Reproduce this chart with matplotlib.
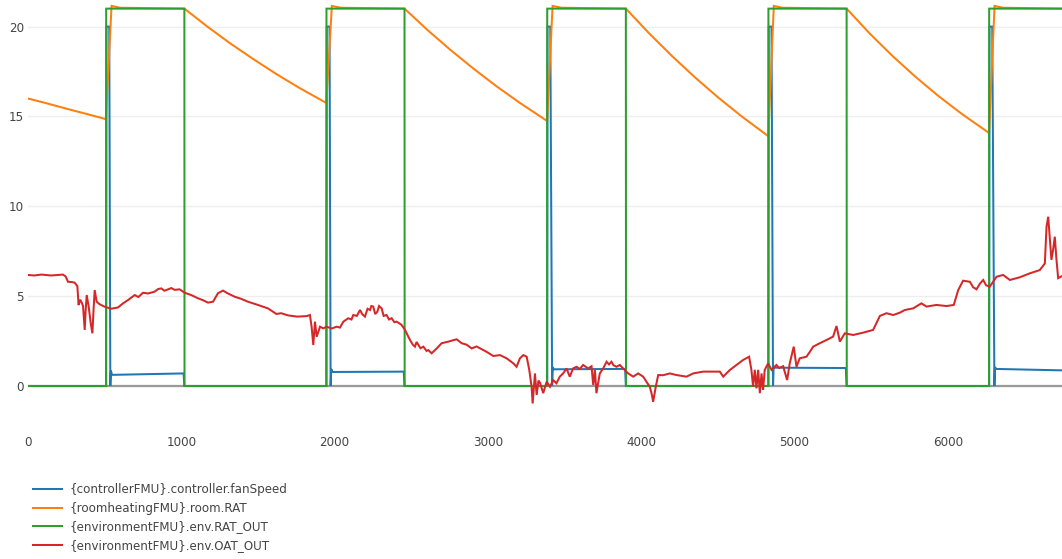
import matplotlib
matplotlib.use("Agg")
import matplotlib.pyplot as plt

# --- simulation output ------------------------------------------------------
fan_t = [0, 510, 512, 530, 537, 541, 548, 1015, 1020,
         1947, 1949, 1967, 1974, 1978, 1985, 2451, 2456,
         3387, 3389, 3407, 3419, 3423, 3430, 3895, 3900,
         4830, 4832, 4850, 4860, 4864, 4871, 5335, 5340,
         6270, 6272, 6290, 6304, 6308, 6315, 6745]
fan = [0, 0, 20, 20, 0, 0.85, 0.62, 0.7, 0,
       0, 20, 20, 0, 0.95, 0.78, 0.8, 0,
       0, 20, 20, 0, 1.05, 0.93, 0.95, 0,
       0, 20, 20, 0, 1.1, 1.02, 1.0, 0,
       0, 20, 20, 0, 1.05, 0.95, 0.87]

room_t = [0, 100, 200, 300, 400, 508, 545, 600, 1020,
          1170, 1320, 1470, 1620, 1770, 1946, 1982, 2040, 2456,
          2606, 2756, 2906, 3056, 3206, 3386, 3422, 3480, 3900,
          4050, 4200, 4350, 4500, 4650, 4829, 4865, 4920, 5340,
          5490, 5640, 5790, 5940, 6090, 6269, 6305, 6360, 6745]
room = [16.0, 15.78, 15.55, 15.32, 15.1, 14.85, 21.15, 21.05, 21.0,
        20.0, 19.06, 18.19, 17.36, 16.59, 15.75, 21.15, 21.05, 21.0,
        19.81, 18.7, 17.66, 16.68, 15.77, 14.75, 21.15, 21.05, 21.0,
        19.64, 18.37, 17.18, 16.07, 15.04, 13.9, 21.15, 21.05, 21.0,
        19.62, 18.36, 17.2, 16.13, 15.15, 14.08, 21.15, 21.05, 21.0]

rat_out_t = [0, 509, 510, 1020, 1021, 1946, 1947, 2456, 2457, 3386, 3387,
             3900, 3901, 4829, 4830, 5340, 5341, 6269, 6270, 6745]
rat_out = [0, 0, 21, 21, 0, 0, 21, 21, 0, 0, 21,
           21, 0, 0, 21, 21, 0, 0, 21, 21]

oat_t = [0, 40, 87, 150, 228, 245, 261, 290, 304, 322, 330, 340, 348, 359,
         370, 376, 383, 396, 409, 420, 428, 435, 448, 467, 500, 543, 587,
         620, 652, 696, 720, 750, 783, 826, 850, 870, 890, 913, 935, 957,
         989, 1022, 1065, 1109, 1140, 1174, 1207, 1239, 1272, 1304, 1348,
         1391, 1435, 1500, 1565, 1620, 1652, 1696, 1757, 1818, 1839, 1850,
         1861, 1872, 1883, 1905, 1926, 1948, 1981, 2013, 2035, 2057, 2089,
         2110, 2122, 2145, 2166, 2180, 2198, 2215, 2231, 2240, 2252, 2265,
         2279, 2290, 2307, 2320, 2339, 2355, 2372, 2390, 2405, 2420, 2437,
         2459, 2492, 2510, 2524, 2535, 2546, 2560, 2579, 2600, 2611, 2633,
         2666, 2698, 2742, 2796, 2829, 2861, 2894, 2926, 2959, 2992, 3035,
         3079, 3122, 3166, 3187, 3209, 3231, 3253, 3270, 3285, 3292, 3307,
         3318, 3330, 3340, 3361, 3383, 3405, 3426, 3447, 3469, 3491, 3513,
         3534, 3556, 3578, 3600, 3621, 3654, 3676, 3687, 3698, 3708, 3730,
         3752, 3774, 3790, 3806, 3820, 3839, 3861, 3882, 3915, 3948, 3980,
         4013, 4034, 4056, 4070, 4078, 4095, 4111, 4143, 4187, 4230, 4296,
         4339, 4404, 4448, 4513, 4535, 4578, 4621, 4665, 4704, 4719, 4730,
         4741, 4752, 4763, 4774, 4785, 4795, 4806, 4828, 4850, 4882, 4900,
         4926, 4952, 4969, 4995, 5013, 5034, 5078, 5100, 5122, 5165, 5209,
         5252, 5274, 5296, 5328, 5383, 5448, 5513, 5557, 5600, 5644, 5687,
         5720, 5774, 5828, 5861, 5926, 5992, 6039, 6068, 6100, 6144, 6165,
         6187, 6210, 6231, 6250, 6274, 6318, 6361, 6405, 6470, 6535, 6600,
         6633, 6644, 6655, 6666, 6676, 6687, 6698, 6709, 6720, 6745]
oat = [6.18, 6.15, 6.2, 6.15, 6.2, 6.1, 5.8, 5.78, 5.75, 5.56, 4.5, 4.8,
       4.69, 4.45, 3.12, 4.2, 5.06, 4.41, 3.49, 2.93, 4.3, 5.34, 4.69, 4.55,
       4.41, 4.3, 4.37, 4.6, 4.78, 5.06, 4.95, 5.19, 5.15, 5.25, 5.4, 5.43,
       5.3, 5.38, 5.45, 5.35, 5.38, 5.19, 5.06, 4.88, 4.78, 4.64, 4.69, 5.16,
       5.31, 5.15, 4.97, 4.85, 4.69, 4.51, 4.32, 4.01, 4.05, 3.93, 3.86,
       3.89, 3.95, 3.3, 2.28, 3.58, 2.74, 3.3, 3.21, 3.3, 3.2, 3.3, 3.25,
       3.58, 3.77, 3.7, 3.95, 3.9, 4.23, 4.0, 3.86, 4.3, 4.23, 4.45, 4.42,
       4.0, 4.14, 4.45, 4.32, 3.9, 3.95, 3.7, 3.77, 3.55, 3.58, 3.5, 3.4,
       3.12, 2.56, 2.3, 2.19, 2.45, 2.3, 2.1, 2.19, 1.95, 2.0, 1.82, 2.09,
       2.38, 2.47, 2.6, 2.38, 2.3, 2.09, 2.2, 2.05, 1.9, 1.67, 1.72, 1.54,
       1.26, 1.07, 1.54, 1.72, 1.63, 0.89, -0.04, -0.97, 0.7, -0.5, 0.3,
       0.18, -0.4, 0.24, -0.04, 0.33, 0.15, 0.52, 0.7, 0.98, 0.52, 0.98,
       1.07, 0.95, 1.17, 0.98, 1.1, 0.06, 0.89, -0.4, 0.7, 0.98, 1.35, 1.2,
       1.35, 1.15, 1.07, 1.17, 0.98, 0.7, 0.52, 0.7, 0.52, 0.24, -0.04,
       -0.5, -0.88, -0.04, 0.61, 0.6, 0.7, 0.61, 0.52, 0.7, 0.8, 0.8, 0.8,
       0.52, 0.89, 1.17, 1.45, 1.63, 0.89, -0.04, 0.9, -0.13, 0.9, -0.4,
       0.7, -0.22, 0.9, 1.26, 0.9, 1.17, 1.0, 1.1, 0.33, 1.26, 2.19, 1.07,
       1.54, 1.63, 1.9, 2.19, 2.38, 2.56, 2.75, 3.34, 2.47, 2.93, 2.84,
       2.97, 3.12, 3.9, 4.05, 3.95, 4.08, 4.23, 4.32, 4.6, 4.42, 4.51, 4.45,
       4.51, 5.34, 5.86, 5.8, 5.5, 5.38, 5.7, 5.9, 5.6, 5.53, 6.08, 6.18,
       5.9, 6.05, 6.27, 6.45, 6.82, 8.86, 9.42, 8.12, 7.02, 7.58, 8.31,
       7.02, 6.0, 6.12]

labels = ["{controllerFMU}.controller.fanSpeed",
          "{roomheatingFMU}.room.RAT",
          "{environmentFMU}.env.RAT_OUT",
          "{environmentFMU}.env.OAT_OUT"]
colors = ["#1f77b4", "#ff7f0e", "#2ca02c", "#d62728"]

W, H = 1062, 559
fig = plt.figure(figsize=(W / 100, H / 100), dpi=100)
ax = fig.add_axes([28 / W, 1 - 420 / H, 1034 / W, 420 / H])

ax.axhline(0, color="#9a9a9a", lw=1.6, zorder=1)
lw = 1.45
series = [(fan_t, fan), (room_t, room), (rat_out_t, rat_out), (oat_t, oat)]
handles = []
for (t, v), c, lab in zip(series, colors, labels):
    h, = ax.plot(t, v, color=c, lw=lw, label=lab, zorder=2,
                 solid_joinstyle="miter")
    handles.append(h)

ax.set_xlim(0, 6745)
ax.set_ylim(-1.892, 21.48)
ax.set_yticks([0, 5, 10, 15, 20])
ax.set_xticks([0, 1000, 2000, 3000, 4000, 5000, 6000])
ax.grid(axis="y", color="#eeeeee", lw=1)
ax.set_axisbelow(True)
for s in ax.spines.values():
    s.set_visible(False)
ax.tick_params(length=0, labelsize=8.6, labelcolor="#444444")
ax.tick_params(axis="x", pad=11.5)
ax.tick_params(axis="y", pad=3)

fig.legend(handles=handles, labels=labels, loc="upper left",
           bbox_to_anchor=(33 / W, 1 - 483 / H), frameon=False,
           fontsize=8.6, handlelength=2.4, handletextpad=0.62,
           labelspacing=0.48, borderpad=0, borderaxespad=0,
           labelcolor="#444444")

fig.savefig("out.png", dpi=100)
